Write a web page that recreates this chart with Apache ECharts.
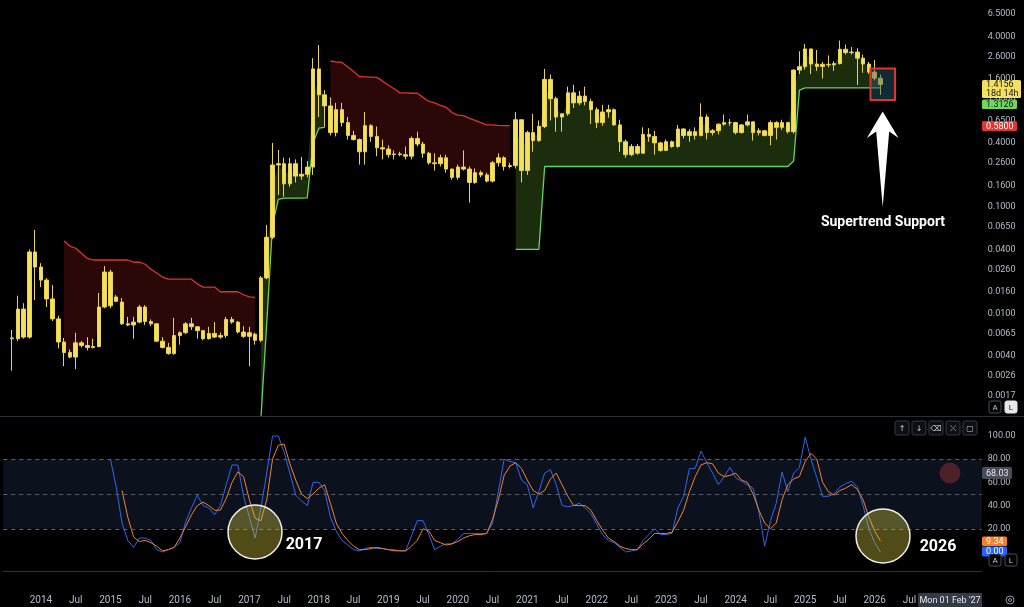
<!DOCTYPE html>
<html lang="en">
<head>
<meta charset="UTF-8">
<title>XRP monthly - Supertrend / Stoch RSI</title>
<style>
  html, body { margin: 0; padding: 0; background: #000; }
  #main { width: 1024px; height: 607px; }
</style>
</head>
<body>
<div id="main"></div>
<script src="https://cdn.jsdelivr.net/npm/echarts@6/dist/echarts.min.js"></script>
<script>
// monthly candles, first one = Aug 2013, last one = Feb 2026
// [open, close, low, high]
const candles = [
  [0.0059,0.0058,0.0029,0.0070],[0.0058,0.0110,0.0055,0.0147],[0.0110,0.0060,0.0058,0.0125],[0.0060,0.0378,0.0058,0.0400],
  [0.0378,0.0273,0.0134,0.0608],[0.0273,0.0206,0.0177,0.0297],[0.0206,0.0137,0.0115,0.0215],[0.0137,0.0089,0.0085,0.0185],
  [0.0089,0.0054,0.0047,0.0095],[0.0054,0.0043,0.0032,0.0059],[0.0043,0.0039,0.0038,0.0046],[0.0039,0.0053,0.0030,0.0066],
  [0.0053,0.0050,0.0048,0.0055],[0.0050,0.0048,0.0045,0.0060],[0.0048,0.0049,0.0047,0.0058],[0.0049,0.0115,0.0048,0.0156],
  [0.0115,0.0245,0.0112,0.0279],[0.0245,0.0118,0.0112,0.0258],[0.0130,0.0143,0.0128,0.0149],[0.0128,0.0080,0.0078,0.0140],
  [0.0080,0.0078,0.0076,0.0093],[0.0078,0.0083,0.0058,0.0093],[0.0083,0.0115,0.0081,0.0120],[0.0115,0.0084,0.0078,0.0120],
  [0.0084,0.0080,0.0076,0.0088],[0.0080,0.0055,0.0054,0.0081],[0.0055,0.0048,0.0047,0.0060],[0.0048,0.0042,0.0041,0.0053],
  [0.0042,0.0062,0.0041,0.0091],[0.0062,0.0066,0.0051,0.0068],[0.0066,0.0080,0.0064,0.0083],[0.0080,0.0075,0.0070,0.0091],
  [0.0075,0.0069,0.0058,0.0076],[0.0069,0.0058,0.0056,0.0070],[0.0058,0.0065,0.0057,0.0075],[0.0065,0.0060,0.0059,0.0083],
  [0.0060,0.0062,0.0058,0.0066],[0.0062,0.0088,0.0059,0.0093],[0.0088,0.0083,0.0080,0.0093],[0.0083,0.0067,0.0065,0.0085],
  [0.0067,0.0061,0.0059,0.0076],[0.0061,0.0066,0.0032,0.0075],[0.0064,0.0056,0.0051,0.0066],[0.0056,0.0216,0.0054,0.0225],
  [0.0216,0.052,0.021,0.068],[0.052,0.248,0.050,0.40],[0.248,0.255,0.13,0.343],[0.255,0.165,0.125,0.29],
  [0.165,0.255,0.155,0.29],[0.255,0.195,0.17,0.28],[0.195,0.203,0.18,0.295],[0.203,0.237,0.19,0.27],
  [0.237,1.98,0.20,2.5],[1.98,1.13,0.70,3.32],[1.13,0.89,0.565,1.25],[0.89,0.50,0.47,1.07],
  [0.50,0.82,0.46,0.95],[0.82,0.62,0.57,0.95],[0.62,0.47,0.43,0.70],[0.47,0.43,0.42,0.52],
  [0.43,0.33,0.25,0.44],[0.33,0.58,0.25,0.78],[0.58,0.46,0.41,0.60],[0.46,0.36,0.30,0.57],
  [0.36,0.35,0.28,0.43],[0.35,0.31,0.29,0.38],[0.31,0.315,0.28,0.34],[0.315,0.31,0.30,0.33],
  [0.31,0.30,0.28,0.37],[0.30,0.44,0.28,0.46],[0.44,0.39,0.37,0.51],[0.39,0.32,0.29,0.41],
  [0.32,0.26,0.25,0.33],[0.26,0.255,0.22,0.32],[0.255,0.29,0.24,0.31],[0.29,0.227,0.21,0.31],
  [0.227,0.19,0.18,0.23],[0.19,0.237,0.18,0.25],[0.237,0.227,0.22,0.34],[0.227,0.17,0.11,0.24],
  [0.17,0.21,0.165,0.23],[0.21,0.20,0.19,0.22],[0.20,0.175,0.17,0.21],[0.175,0.26,0.17,0.27],
  [0.26,0.29,0.24,0.32],[0.29,0.24,0.22,0.30],[0.24,0.245,0.23,0.26],[0.245,0.66,0.23,0.78],
  [0.66,0.22,0.17,0.66],[0.22,0.50,0.20,0.52],[0.50,0.42,0.33,0.75],[0.42,0.57,0.41,0.65],
  [0.57,1.58,0.55,1.98],[1.58,1.04,0.65,1.75],[1.04,0.70,0.51,1.09],[0.70,0.75,0.51,0.76],
  [0.75,1.18,0.72,1.35],[1.18,0.95,0.85,1.41],[0.95,1.10,0.90,1.23],[1.10,0.98,0.90,1.35],
  [0.98,0.82,0.60,1.04],[0.82,0.62,0.55,0.86],[0.62,0.78,0.58,0.91],[0.78,0.82,0.69,0.91],
  [0.82,0.59,0.58,0.84],[0.59,0.41,0.33,0.66],[0.41,0.31,0.29,0.43],[0.31,0.37,0.30,0.39],
  [0.37,0.32,0.31,0.39],[0.32,0.48,0.32,0.56],[0.48,0.46,0.41,0.55],[0.46,0.40,0.31,0.52],
  [0.40,0.34,0.33,0.41],[0.34,0.41,0.34,0.43],[0.41,0.37,0.36,0.42],[0.37,0.54,0.36,0.59],
  [0.54,0.47,0.44,0.55],[0.47,0.51,0.41,0.54],[0.51,0.47,0.43,0.56],[0.47,0.70,0.46,0.94],
  [0.70,0.50,0.43,0.74],[0.50,0.52,0.47,0.54],[0.52,0.60,0.48,0.61],[0.60,0.62,0.58,0.74],
  [0.62,0.62,0.58,0.67],[0.62,0.50,0.48,0.63],[0.50,0.59,0.49,0.60],[0.59,0.63,0.57,0.74],
  [0.63,0.50,0.42,0.63],[0.50,0.52,0.47,0.55],[0.52,0.47,0.46,0.53],[0.47,0.62,0.38,0.65],
  [0.62,0.56,0.43,0.64],[0.56,0.62,0.53,0.66],[0.62,0.51,0.49,0.63],[0.51,1.93,0.49,1.97],
  [1.93,2.08,1.77,2.90],[2.08,3.05,1.95,3.40],[3.05,2.20,1.77,3.05],[2.20,2.09,1.90,2.98],
  [2.09,2.19,1.61,2.30],[2.19,2.16,2.05,2.65],[2.16,2.22,1.90,2.34],[2.22,3.03,2.18,3.65],
  [3.03,2.82,2.70,3.35],[2.82,2.85,2.70,3.19],[2.85,2.50,1.40,3.10],[2.50,2.20,1.82,2.70],
  [2.20,1.85,1.78,2.30],[1.85,1.62,1.55,2.40],[1.62,1.4156,1.13,1.75]
];

// supertrend segments (start = candle index)
const redSeg1Start = 9;
const redSeg1 = [0.048,0.043,0.041,0.0368,0.033,0.0318,0.0318,0.0318,0.0318,0.0318,0.0318,0.0318,
  0.0303,0.0303,0.029,0.026,0.024,0.022,0.021,0.021,0.021,0.021,0.021,0.019,0.0177,0.0177,0.0177,
  0.016,0.016,0.016,0.016,0.015,0.0143,0.0142];
const greenSeg1Start = 43;
const greenSeg1 = [0.00105,0.0082,0.068,0.118,0.121,0.121,0.121,0.121,0.122,0.40,0.55,0.56];
const redSeg2Start = 55;
const redSeg2 = [2.35,2.30,2.28,2.06,1.87,1.68,1.67,1.66,1.65,1.52,1.40,1.29,1.18,1.18,1.17,1.17,
  1.07,0.98,0.95,0.90,0.86,0.77,0.73,0.72,0.68,0.65,0.62,0.59,0.59,0.585,0.582,0.58];
const greenSeg2Start = 87;
const greenSeg2 = [0.040,0.040,0.040,0.040,0.040,
  0.24,0.24,0.24,0.24,0.24,0.24,0.24,0.24,0.24,0.24,0.24,0.24,0.24,0.24,0.24,0.24,0.24,0.24,0.24,0.24,
  0.24,0.24,0.24,0.24,0.24,0.24,0.24,0.24,0.24,0.24,0.24,0.24,0.24,0.24,0.24,0.24,0.24,0.24,0.24,0.24,
  0.24,0.24,0.24,0.27,1.25,
  1.3126,1.3126,1.3126,1.3126,1.3126,1.3126,1.3126,1.3126,1.3126,1.3126,1.3126,1.3126,1.3126,1.3126];

// stoch RSI
const kStart = 17;
const kVals = [80,56,25,10,4,12,12,10,2,0,2,4,8,26,38,49,40,38,32,40,58,75,75,48,30,12,38,68,100,100,
  86,68,49,44,40,60,60,53,30,18,10,6,2,1,3,4,3,3,2,2,1,1,14,27,27,15,2,5,7,7,11,16,16,16,16,16,25,52,
  80,78,77,62,58,38,52,68,71,58,40,39,40,42,38,33,24,15,10,8,4,0,1,2,10,15,20,15,15,16,38,48,72,72,87,
  77,68,58,65,73,64,61,58,55,35,5,27,42,69,52,68,73,99,80,64,48,48,50,56,59,61,56,40,20,8,0];
const dStart = 19;
const dVals = [53,30,13,9,10,8,5,1,2,4,12,22,32,40,43,40,36,36,46,60,69,65,45,29,27,45,80,92,93,76,
  62,50,46,50,55,58,42,25,16,10,5,2,2,3,4,3,2,1,1,1,5,10,20,18,10,8,6,7,9,12,14,15,15,16,28,45,66,74,
  77,72,62,53,50,53,63,68,58,48,40,40,40,36,27,19,12,9,5,3,2,2,7,11,16,16,16,17,26,36,52,65,75,77,76,
  68,65,66,68,62,60,50,36,25,20,25,45,58,63,65,78,85,80,60,52,49,53,55,58,54,45,30,18,9.34];
const dotIndex = 162, dotValue = 68.03;

const priceTicks = [6.5,4,2.6,1.6,1.0,0.65,0.4,0.26,0.16,0.1,0.065,0.04,0.026,0.016,0.01,0.0065,0.004,0.0026,0.0017];
const stochTicks = [20,40,60,80,100];

// category axis: Jul 2013 (empty slot) .. Jul 2027
const N_CATS = 169, OFF = 1;
const cats = [];
for (let k = 0; k < N_CATS; k++) {
  const m = 6 + k;
  cats.push((2013 + Math.floor(m / 12)) + '-' + String(m % 12 + 1).padStart(2, '0'));
}

function spread(arr, start) {
  const out = new Array(N_CATS).fill(null);
  arr.forEach((v, j) => { out[start + OFF + j] = v; });
  return out;
}

const candleData = [['-','-','-','-']].concat(candles);
const mid = spread(candles.map(c => (c[0] + c[1]) / 2), 0);
const red = spread(redSeg1, redSeg1Start);
spread(redSeg2, redSeg2Start).forEach((v, i) => { if (v != null) red[i] = v; });
const green = spread(greenSeg1, greenSeg1Start);
spread(greenSeg2, greenSeg2Start).forEach((v, i) => { if (v != null) green[i] = v; });

const redBase = red.map((v, i) => v == null ? null : mid[i]);
const redDelta = red.map((v, i) => v == null ? null : v - mid[i]);
const greenDelta = green.map((v, i) => v == null ? null : mid[i] - v);

const kData = spread(kVals, kStart);
const dData = spread(dVals, dStart);

const TXT = '#b8bcc6';
const FONT = 'Roboto, "DejaVu Sans", sans-serif';

const chart = echarts.init(document.getElementById('main'), null, {renderer: 'canvas'});

const hidden = {width: 0, opacity: 0};
const option = {
  backgroundColor: '#000',
  animation: false,
  grid: [
    {left: 3.3, right: 42.2, top: 0, height: 415},
    {left: 3.3, right: 42.2, top: 418, height: 153}
  ],
  xAxis: [
    {type: 'category', gridIndex: 0, data: cats, axisLine: {show: false}, axisTick: {show: false},
      axisLabel: {show: false}, splitLine: {show: false}},
    {type: 'category', gridIndex: 1, data: cats,
      axisLine: {show: true, onZero: false, lineStyle: {color: '#2a2e39'}}, axisTick: {show: false},
      splitLine: {show: false},
      axisLabel: {
        color: TXT, fontSize: 10, fontFamily: FONT, margin: 24,
        interval: (idx, val) => {
          const m = val.slice(5);
          return (m === '01' || m === '07') && val >= '2014-01' && val <= '2026-07';
        },
        formatter: val => val.slice(5) === '01' ? val.slice(0, 4) : 'Jul'
      }}
  ],
  yAxis: [
    {type: 'log', logBase: 10, gridIndex: 0, position: 'right', min: 0.001114, max: 8.785,
      axisLine: {show: false}, axisTick: {show: false}, splitLine: {show: false},
      axisLabel: {customValues: priceTicks, color: TXT, fontSize: 9, fontFamily: FONT, margin: 6,
        formatter: v => Number(v).toFixed(4)}},
    {type: 'value', gridIndex: 1, position: 'right', min: -16.4, max: 115.5,
      axisLine: {show: false}, axisTick: {show: false}, splitLine: {show: false},
      axisLabel: {customValues: stochTicks, color: TXT, fontSize: 9, fontFamily: FONT, margin: 6,
        formatter: v => Number(v).toFixed(2)}}
  ],
  series: [
    // supertrend fills (line -> body middle)
    {type: 'line', xAxisIndex: 0, yAxisIndex: 0, stack: 'red', data: redBase, symbol: 'none',
      lineStyle: hidden, silent: true, z: 1},
    {type: 'line', xAxisIndex: 0, yAxisIndex: 0, stack: 'red', stackStrategy: 'all', data: redDelta,
      symbol: 'none', lineStyle: hidden, areaStyle: {color: '#2b0808', opacity: 1}, silent: true, z: 1},
    {type: 'line', xAxisIndex: 0, yAxisIndex: 0, stack: 'green', data: green, symbol: 'none',
      lineStyle: hidden, silent: true, z: 1},
    {type: 'line', xAxisIndex: 0, yAxisIndex: 0, stack: 'green', stackStrategy: 'all', data: greenDelta,
      symbol: 'none', lineStyle: hidden, areaStyle: {color: '#1b2d0c', opacity: 1}, silent: true, z: 1},
    // supertrend lines
    {type: 'line', xAxisIndex: 0, yAxisIndex: 0, data: red, symbol: 'none',
      lineStyle: {color: '#d9352e', width: 1.3}, z: 2},
    {type: 'line', xAxisIndex: 0, yAxisIndex: 0, data: green, symbol: 'none',
      lineStyle: {color: '#62d65a', width: 1.3}, z: 2},
    {type: 'candlestick', xAxisIndex: 0, yAxisIndex: 0, data: candleData, barWidth: 4, z: 3,
      itemStyle: {color: '#f6e05a', color0: '#f6e05a', borderColor: '#e9d352', borderColor0: '#e9d352', borderWidth: 1}},
    // stoch RSI pane
    {type: 'line', xAxisIndex: 1, yAxisIndex: 1, data: kData, symbol: 'none', silent: true, z: 1,
      lineStyle: {opacity: 0},
      markArea: {silent: true, itemStyle: {color: '#0b121d'}, data: [[{yAxis: 20}, {yAxis: 80}]]},
      markLine: {silent: true, symbol: 'none', label: {show: false},
        lineStyle: {color: '#5f636e', type: [4, 4], width: 1},
        data: [{yAxis: 80}, {yAxis: 50}, {yAxis: 20}]}},
    {type: 'line', xAxisIndex: 1, yAxisIndex: 1, data: kData, symbol: 'none',
      lineStyle: {color: '#2f66f0', width: 1}, z: 3},
    {type: 'line', xAxisIndex: 1, yAxisIndex: 1, data: dData, symbol: 'none',
      lineStyle: {color: '#f5812a', width: 1}, z: 3},
    {type: 'scatter', xAxisIndex: 1, yAxisIndex: 1, data: [[dotIndex + OFF, dotValue]],
      symbolSize: 21, itemStyle: {color: 'rgba(190,60,62,0.45)'}, z: 4}
  ]
};
chart.setOption(option);

// overlay: price tags, pane buttons and the hand-drawn annotations
const ZT = 100;
function tag(x, y, w, h, bg, lines, fg) {
  const children = [{type: 'rect', z: ZT, shape: {x: x, y: y, width: w, height: h, r: 1.5}, style: {fill: bg}}];
  const lh = h / lines.length;
  lines.forEach((t, j) => children.push({type: 'text', z: ZT + 1, style: {
    text: t, x: x + 4, y: y + lh * j + lh / 2 + 0.5, fill: fg, font: '9px ' + FONT, verticalAlign: 'middle'}}));
  return {type: 'group', children: children};
}
function button(x, y, label, filled) {
  return {type: 'group', children: [
    {type: 'rect', z: ZT, shape: {x: x, y: y, width: 12, height: 12, r: 2},
      style: {fill: filled ? '#e6e8ee' : '#000', stroke: filled ? '#e6e8ee' : '#4a4e59', lineWidth: 1}},
    {type: 'text', z: ZT + 1, style: {text: label, x: x + 6, y: y + 6.5, fill: filled ? '#131722' : '#c8cbd3',
      font: '8px ' + FONT, align: 'center', verticalAlign: 'middle'}}
  ]};
}
function toolBtn(x, glyph) {
  return {type: 'group', children: [
    {type: 'rect', z: ZT, shape: {x: x, y: 421, width: 14, height: 14, r: 2}, style: {fill: '#0d0f14', stroke: '#363a45', lineWidth: 1}},
    {type: 'text', z: ZT + 1, style: {text: glyph, x: x + 7, y: 428.5, fill: '#c8cbd3', font: '8px "DejaVu Sans"', align: 'center', verticalAlign: 'middle'}}
  ]};
}

const last = candles[candles.length - 1];
const graphics = [
  {type: 'line', z: 50, shape: {x1: 0, y1: 416.5, x2: 1024, y2: 416.5}, style: {stroke: '#2a2e39', lineWidth: 1}},
  tag(982, 80, 39, 18, '#f4e15e', [last[1].toFixed(4), '18d 14h'], '#131722'),
  tag(982, 99.5, 35, 9.5, '#6fd85a', [greenSeg2[greenSeg2.length - 1].toFixed(4)], '#131722'),
  tag(982, 121, 35, 10, '#e3342f', [redSeg2[redSeg2.length - 1].toFixed(4)], '#ffffff'),
  tag(982, 467, 30, 12, '#4a4d57', [dotValue.toFixed(2)], '#e0e3eb'),
  tag(982, 546.5, 25, 10, '#2962ff', [kVals[kVals.length - 1].toFixed(2)], '#ffffff'),
  tag(982, 536.5, 25, 9.5, '#f57f27', [dVals[dVals.length - 1].toFixed(2)], '#ffffff'),
  {type: 'rect', z: ZT - 2, shape: {x: 984, y: 552, width: 40, height: 18}, style: {fill: '#000'}},
  button(989, 401, 'A', false), button(1005, 401, 'L', true),
  button(989, 554, 'A', false), button(1005, 554, 'L', false),
  toolBtn(895, '↑'), toolBtn(912, '↓'), toolBtn(929, '⌫'), toolBtn(946, '⤬'), toolBtn(963, '▢'),
  // time axis cursor tag + settings icon
  {type: 'group', children: [
    {type: 'rect', z: ZT, shape: {x: 918, y: 593, width: 64, height: 14, r: 1}, style: {fill: '#363a45'}},
    {type: 'text', z: ZT + 1, style: {text: "Mon 01 Feb '27", x: 950, y: 600.5, fill: '#e6e8ee', font: '9px ' + FONT, align: 'center', verticalAlign: 'middle'}}
  ]},
  {type: 'circle', z: ZT, shape: {cx: 1010, cy: 600, r: 4}, style: {fill: 'none', stroke: '#9598a1', lineWidth: 1}},
  {type: 'circle', z: ZT, shape: {cx: 1010, cy: 600, r: 1.5}, style: {fill: 'none', stroke: '#9598a1', lineWidth: 1}},
  // annotations
  {type: 'rect', z: 60, shape: {x: 870.5, y: 68.5, width: 24.5, height: 31.5}, style: {fill: 'rgba(40,92,120,0.45)', stroke: '#e0332e', lineWidth: 2}},
  {type: 'polygon', z: 60, shape: {points: [[882.7, 111.5], [898.5, 138], [889.2, 131.5], [882.7, 207], [876.2, 131.5], [866.9, 138]]},
    style: {fill: '#ffffff'}},
  {type: 'text', z: 60, style: {text: 'Supertrend Support', x: 883, y: 222.5, fill: '#ffffff', font: 'bold 14px ' + FONT, align: 'center', verticalAlign: 'middle'}},
  {type: 'circle', z: 60, shape: {cx: 255, cy: 532, r: 27}, style: {fill: 'rgba(214,196,64,0.38)', stroke: '#f0efe6', lineWidth: 1.5}},
  {type: 'circle', z: 60, shape: {cx: 883, cy: 536, r: 27}, style: {fill: 'rgba(214,196,64,0.38)', stroke: '#f0efe6', lineWidth: 1.5}},
  {type: 'text', z: 60, style: {text: '2017', x: 304, y: 544.5, fill: '#ffffff', font: 'bold 16px ' + FONT, align: 'center', verticalAlign: 'middle'}},
  {type: 'text', z: 60, style: {text: '2026', x: 938, y: 547, fill: '#ffffff', font: 'bold 16px ' + FONT, align: 'center', verticalAlign: 'middle'}}
];
chart.setOption({graphic: graphics});
</script>
</body>
</html>
